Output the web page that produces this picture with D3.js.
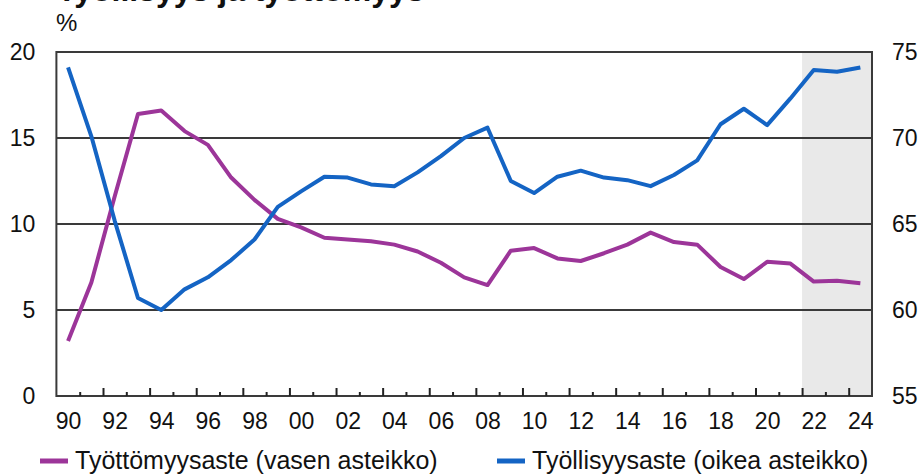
<!DOCTYPE html>
<html>
<head>
<meta charset="utf-8">
<script src="https://cdn.jsdelivr.net/npm/d3@7"></script>
<style>
  body { margin: 0; background: #fff; }
  svg text { font-family: "Liberation Sans", Arial, sans-serif; fill: #111; }
</style>
</head>
<body>
<div id="chart"></div>
<script>
// years 1990..2024, forecast from 2022
var years = d3.range(1990, 2025);
var forecastStart = 2022;

// unemployment rate, % (left scale)
var unemployment = [3.2, 6.6, 11.6, 16.4, 16.6, 15.4, 14.6, 12.7, 11.4, 10.3,
  9.8, 9.2, 9.1, 9.0, 8.8, 8.4, 7.75, 6.9, 6.45, 8.45,
  8.6, 8.0, 7.85, 8.3, 8.8, 9.5, 8.95, 8.8, 7.5, 6.8,
  7.8, 7.7, 6.65, 6.7, 6.55];

// employment rate, % (right scale)
var employment = [74.1, 70.1, 65.2, 60.7, 60.0, 61.2, 61.9, 62.9, 64.1, 66.0,
  66.9, 67.75, 67.7, 67.3, 67.2, 68.0, 68.95, 70.0, 70.6, 67.5,
  66.8, 67.75, 68.1, 67.7, 67.55, 67.2, 67.85, 68.7, 70.8, 71.7,
  70.75, 72.3, 73.95, 73.85, 74.1];

var leftTicks = [0, 5, 10, 15, 20];
var rightTicks = [55, 60, 65, 70, 75];
var labelYears = d3.range(1990, 2025, 2);

var title = "Työllisyys ja työttömyys";
var unitLabel = "%";
var legendNames = ["Työttömyysaste (vasen asteikko)", "Työllisyysaste (oikea asteikko)"];
var colors = ["#9c3599", "#1464c4"];

var width = 921, height = 475;
var plotLeft = 56.4, plotRight = 872, plotTop = 52, plotBottom = 396;

var svg = d3.select("#chart")
  .append("svg")
    .attr("width", width)
    .attr("height", height);

var x = d3.scaleLinear().domain([1989.5, 2024.5]).range([plotLeft, plotRight]);
var yL = d3.scaleLinear().domain([0, 20]).range([plotBottom, plotTop]);
var yR = d3.scaleLinear().domain([55, 75]).range([plotBottom, plotTop]);

// forecast shading
svg.append("rect")
  .attr("x", x(forecastStart - 0.5))
  .attr("y", plotTop)
  .attr("width", x(2024.5) - x(forecastStart - 0.5))
  .attr("height", plotBottom - plotTop)
  .attr("fill", "#e9e9e9");

// gridlines
svg.append("g")
  .selectAll("line")
  .data(leftTicks.filter(function(d){ return d > 0 && d < 20; }))
  .enter()
  .append("line")
    .attr("x1", plotLeft).attr("x2", plotRight)
    .attr("y1", function(d){ return yL(d); })
    .attr("y2", function(d){ return yL(d); })
    .attr("stroke", "#3a3a3a")
    .attr("stroke-width", 2);

// frame
svg.append("rect")
  .attr("x", plotLeft).attr("y", plotTop)
  .attr("width", plotRight - plotLeft).attr("height", plotBottom - plotTop)
  .attr("fill", "none")
  .attr("stroke", "#3a3a3a")
  .attr("stroke-width", 2);

// bottom ticks (inside), at year boundaries
var boundaries = d3.range(1990.5, 2024, 1);
svg.append("g")
  .attr("transform", "translate(0," + plotBottom + ")")
  .call(d3.axisBottom(x).tickValues(boundaries).tickSize(0).tickFormat(""))
  .call(function(g){ g.select(".domain").remove(); })
  .selectAll(".tick line")
    .attr("y2", function(d){ return (Math.round(d + 0.5) % 2 === 0) ? -8 : -4; })
    .attr("stroke", "#222")
    .attr("stroke-width", 2);

// x labels
svg.append("g")
  .attr("transform", "translate(0," + plotBottom + ")")
  .call(d3.axisBottom(x).tickValues(labelYears).tickSize(0).tickPadding(17)
    .tickFormat(function(d){ return String(d).slice(2); }))
  .call(function(g){ g.select(".domain").remove(); })
  .selectAll("text")
    .style("font-size", "23px")
    .attr("fill", "#111");

// left axis labels
svg.append("g")
  .attr("transform", "translate(" + plotLeft + ",0)")
  .call(d3.axisLeft(yL).tickValues(leftTicks).tickSize(0).tickPadding(21))
  .call(function(g){ g.select(".domain").remove(); })
  .selectAll("text")
    .style("font-size", "23px")
    .attr("fill", "#111");

// right axis labels
svg.append("g")
  .attr("transform", "translate(" + plotRight + ",0)")
  .call(d3.axisRight(yR).tickValues(rightTicks).tickSize(0).tickPadding(20))
  .call(function(g){ g.select(".domain").remove(); })
  .selectAll("text")
    .style("font-size", "23px")
    .attr("fill", "#111");

// lines
var lineL = d3.line()
  .x(function(d, i){ return x(years[i]); })
  .y(function(d){ return yL(d); });
var lineR = d3.line()
  .x(function(d, i){ return x(years[i]); })
  .y(function(d){ return yR(d); });

svg.append("path")
  .datum(unemployment)
  .attr("d", lineL)
  .attr("fill", "none")
  .attr("stroke", colors[0])
  .attr("stroke-width", 4)
  .attr("stroke-linejoin", "round");

svg.append("path")
  .datum(employment)
  .attr("d", lineR)
  .attr("fill", "none")
  .attr("stroke", colors[1])
  .attr("stroke-width", 4)
  .attr("stroke-linejoin", "round");

// title (cut at the top) and unit
svg.append("text")
  .attr("x", 57).attr("y", 1)
  .style("font-size", "32px")
  .style("font-weight", "bold")
  .text(title);

svg.append("text")
  .attr("x", 56).attr("y", 31)
  .style("font-size", "24px")
  .text(unitLabel);

// legend
var legendX = [40, 497];
var legend = svg.append("g")
  .selectAll("g")
  .data(legendNames)
  .enter()
  .append("g")
    .attr("transform", function(d, i){ return "translate(" + legendX[i] + ",461)"; });

legend.append("line")
  .attr("x1", 0).attr("x2", 28)
  .attr("stroke", function(d, i){ return colors[i]; })
  .attr("stroke-width", 5);

legend.append("text")
  .attr("x", 35).attr("y", 8)
  .style("font-size", "25px")
  .text(function(d){ return d; });
</script>
</body>
</html>
